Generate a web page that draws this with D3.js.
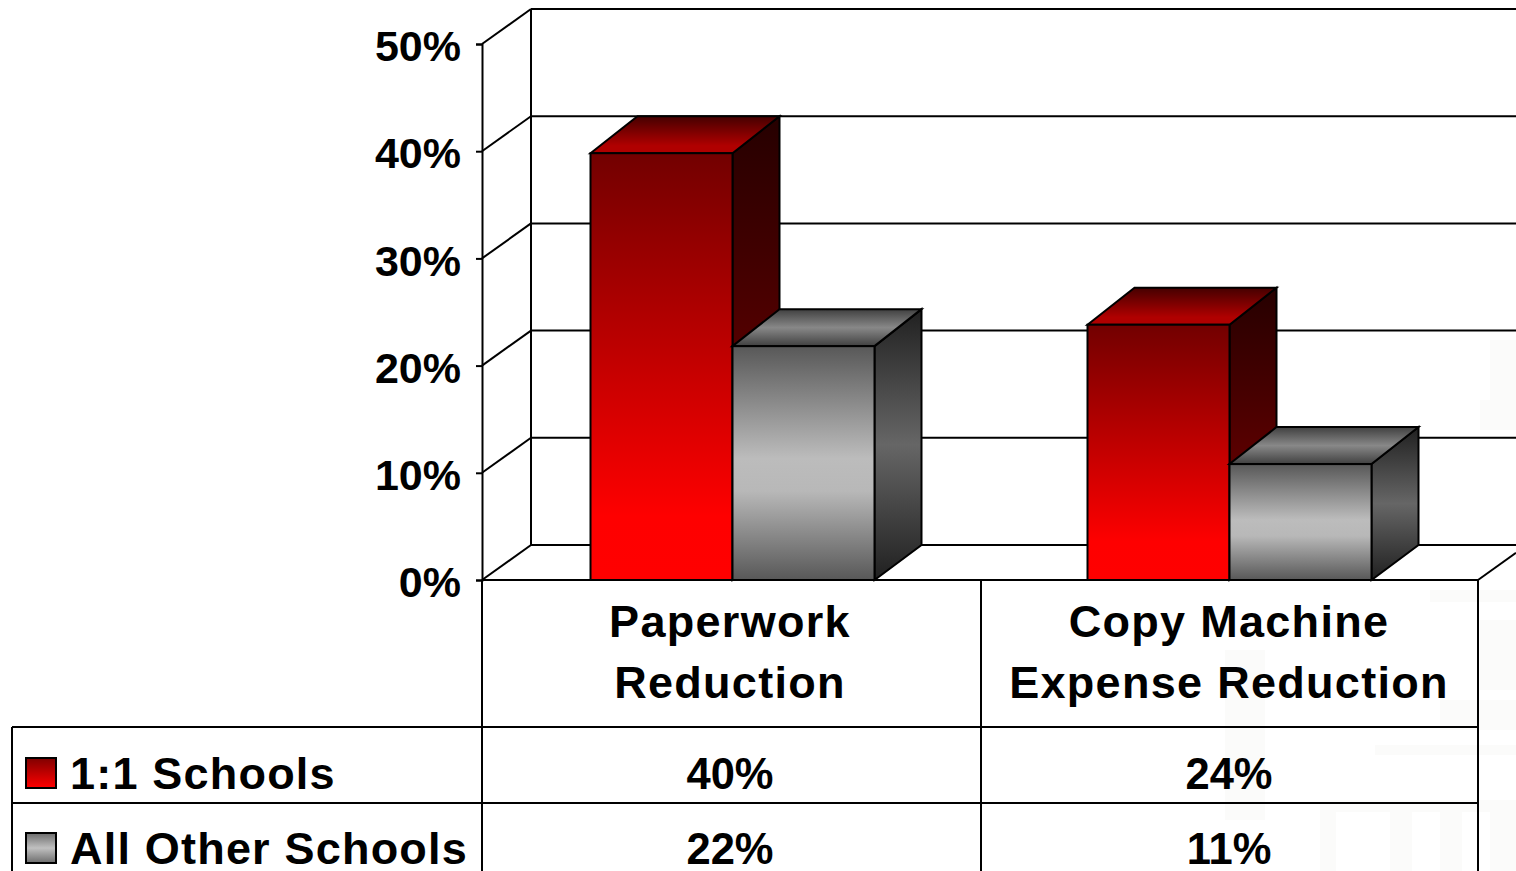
<!DOCTYPE html>
<html>
<head>
<meta charset="utf-8">
<style>
html,body{margin:0;padding:0;background:#fff;overflow:hidden}
svg{display:block}
text{font-family:"Liberation Sans",Arial,sans-serif;font-weight:700;fill:#000}
</style>
<script src="https://cdn.jsdelivr.net/npm/d3@7/dist/d3.min.js"></script>
</head>
<body>
<svg id="chart" width="1516" height="871"></svg>
<script>
// Survey results: share of schools reporting each kind of savings
const categories = [["Paperwork", "Reduction"], ["Copy Machine", "Expense Reduction"]];
const seriesNames = ["1:1 Schools", "All Other Schools"];
const oneToOneValues = [40, 24];
const otherSchoolValues = [22, 11];
const yTicks = [0, 10, 20, 30, 40, 50];

const svg = d3.select("#chart");
const W = 1516, H = 871;

// Oblique projection of the 3D box
const wallDepthX = 49, barDepthX = 47, depthY = 35;
const bevel = 2;      // front face of a bar starts slightly under its back edge

const y = d3.scaleLinear().domain([0, 50]).range([580, 44]);
const x0 = d3.scaleBand().domain(d3.range(categories.length)).range([482, 1476]);
const barW = 142;
const x1 = d3.scaleBand().domain(d3.range(seriesNames.length))
  .range([0, barW * seriesNames.length]);
const groupPad = (x0.bandwidth() - barW * seriesNames.length) / 2;

// Gradient defs
const defs = svg.append("defs");
function grad(id, stops) {
  const g = defs.append("linearGradient").attr("id", id)
    .attr("x1", 0).attr("y1", 0).attr("x2", 0).attr("y2", 1);
  stops.forEach(([o, c]) => g.append("stop").attr("offset", o).attr("stop-color", c));
}
grad("redFront", [[0, "#720000"], [0.85, "#fe0000"], [1, "#ff0000"]]);
grad("redTop", [[0, "#450000"], [0.8, "#b00000"], [1, "#b00000"]]);
grad("redSide", [[0, "#260000"], [1, "#800000"]]);
grad("grayFront", [[0, "#585858"], [0.48, "#bcbcbc"], [0.62, "#b8b8b8"], [1, "#585858"]]);
grad("grayTop", [[0, "#404040"], [0.5, "#888888"], [1, "#404040"]]);
grad("graySide", [[0, "#202020"], [0.5, "#666666"], [1, "#202020"]]);
grad("redKey", [[0, "#800000"], [1, "#ff0000"]]);
grad("grayKey", [[0, "#6c6c6c"], [0.5, "#c0c0c0"], [1, "#6c6c6c"]]);

// Faint building emblem printed behind the slide content
const emblem = svg.append("g").attr("fill", "#fbfbfa");
const emblemBlocks = [
  [1480, 400, 36, 30], [1490, 340, 26, 60], [1430, 590, 86, 12],
  [1480, 620, 36, 70], [1225, 650, 40, 170], [1440, 700, 76, 30],
  [1375, 745, 141, 10], [1320, 800, 196, 12], [1320, 812, 16, 59],
  [1390, 812, 22, 59], [1440, 812, 22, 59], [1490, 812, 26, 59]
];
emblem.selectAll("rect").data(emblemBlocks).join("rect")
  .attr("x", d => d[0]).attr("y", d => d[1])
  .attr("width", d => d[2]).attr("height", d => d[3]);

const line = (g, x1v, y1v, x2v, y2v) => g.append("line")
  .attr("x1", x1v).attr("y1", y1v).attr("x2", x2v).attr("y2", y2v)
  .attr("stroke", "#000").attr("stroke-width", 2);

// Walls and gridlines
const walls = svg.append("g");
const backX = 482 + wallDepthX;
yTicks.forEach(t => {
  const yy = y(t);
  line(walls, 482, yy, backX, yy - depthY);
  line(walls, backX, yy - depthY, W, yy - depthY);
});
line(walls, backX, y(0) - depthY, backX, y(50) - depthY);
line(walls, 1478, 580, W, 580 - (W - 1478) * depthY / wallDepthX);

// Value axis
const axis = d3.axisLeft(y).tickValues(yTicks).tickSize(6).tickPadding(15)
  .tickFormat(d => d + "%");
const axisG = svg.append("g").attr("transform", "translate(482,0)").call(axis);
axisG.attr("font-family", null).attr("font-size", null);
axisG.select(".domain").attr("stroke", "#000").attr("stroke-width", 2);
axisG.selectAll(".tick line").attr("stroke", "#000").attr("stroke-width", 2);
axisG.selectAll("text").style("font-size", "43px").attr("dy", "0.39em");

// Bars
const seriesValues = [oneToOneValues, otherSchoolValues];
const palette = [["redFront", "redTop", "redSide"], ["grayFront", "grayTop", "graySide"]];
const bars = svg.append("g").attr("stroke", "#000").attr("stroke-width", 2)
  .attr("stroke-linejoin", "miter");

categories.forEach((_, c) => {
  seriesValues.forEach((vals, s) => {
    const left = x0(c) + groupPad + x1(s) + 2;
    const right = left + barW;
    const top = y(vals[c]);
    const front = top + bevel;
    const base = y(0);
    const [fFront, fTop, fSide] = palette[s];
    const g = bars.append("g").datum(vals[c]);
    g.append("path").attr("fill", `url(#${fSide})`)
      .attr("d", d3.line()([[right, front], [right + barDepthX, top - depthY],
        [right + barDepthX, base - depthY], [right, base]]) + "Z");
    g.append("path").attr("fill", `url(#${fTop})`)
      .attr("d", d3.line()([[left, front], [left + barDepthX, top - depthY],
        [right + barDepthX, top - depthY], [right, front]]) + "Z");
    g.append("rect").attr("fill", `url(#${fFront})`)
      .attr("x", left).attr("y", front).attr("width", barW).attr("height", base - front);
  });
});

// Data table under the plot
const table = svg.append("g");
line(table, 482, 580, 1478, 580);
line(table, 12, 727, 1478, 727);
line(table, 12, 803, 1478, 803);
line(table, 12, 727, 12, H);
[482, 981, 1478].forEach(xx => line(table, xx, 580, xx, H));

const labelSize = 45;
const centers = [730, 1229];
const labels = svg.append("g").attr("text-anchor", "middle")
  .style("font-size", labelSize + "px").style("letter-spacing", "1.3px");
categories.forEach((lines, c) => {
  lines.forEach((t, i) => labels.append("text").attr("x", centers[c]).attr("y", 637 + i * 61).text(t));
});

// Legend keys and value rows
const baselines = [789, 864];
const keyTops = [758, 833];
seriesNames.forEach((name, s) => {
  svg.append("rect").attr("x", 26).attr("y", keyTops[s]).attr("width", 30).attr("height", 30)
    .attr("fill", s === 0 ? "url(#redKey)" : "url(#grayKey)")
    .attr("stroke", "#000").attr("stroke-width", 2);
  svg.append("text").attr("x", 70).attr("y", baselines[s])
    .style("font-size", labelSize + "px").style("letter-spacing", "1.2px").text(name);
  seriesValues[s].forEach((v, c) => {
    svg.append("text").attr("x", centers[c]).attr("y", baselines[s])
      .attr("text-anchor", "middle").style("font-size", "43.5px").text(v + "%");
  });
});
</script>
</body>
</html>
